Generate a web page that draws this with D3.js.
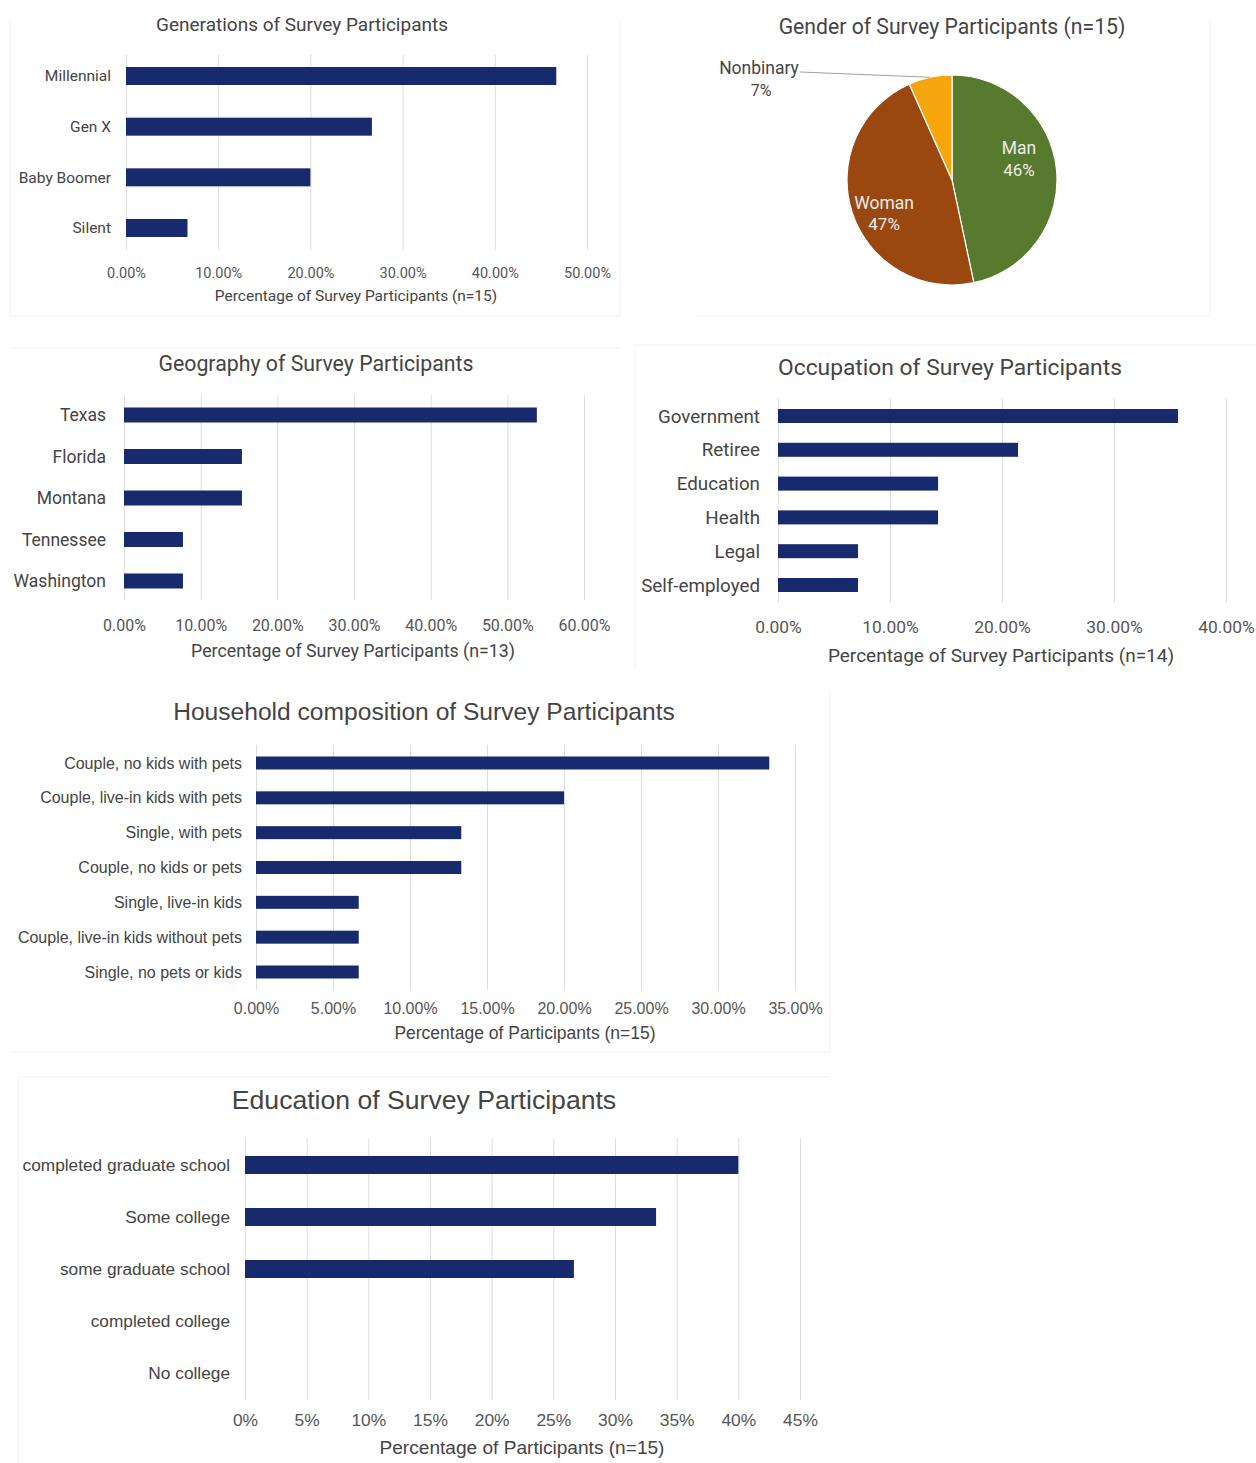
<!DOCTYPE html>
<html>
<head>
<meta charset="utf-8">
<script src="https://cdn.jsdelivr.net/npm/d3@7"></script>
<style>
  html, body { margin: 0; padding: 0; background: #fff; }
  svg { display: block; }
</style>
</head>
<body>
<svg id="chart" width="1256" height="1463"></svg>
<script>
// ---------------- DATA ----------------
const genCategories = ["Millennial", "Gen X", "Baby Boomer", "Silent"];
const genValues = [46.67, 26.67, 20.0, 6.67];
const genTicks = [0, 10, 20, 30, 40, 50];

const genderCategories = ["Man", "Woman", "Nonbinary"];
const genderCounts = [7, 7, 1];
const genderLabels = ["46%", "47%", "7%"];
const genderColors = ["#587a2f", "#9a4810", "#f5a60c"];

const geoCategories = ["Texas", "Florida", "Montana", "Tennessee", "Washington"];
const geoValues = [53.85, 15.38, 15.38, 7.69, 7.69];
const geoTicks = [0, 10, 20, 30, 40, 50, 60];

const occCategories = ["Government", "Retiree", "Education", "Health", "Legal", "Self-employed"];
const occValues = [35.71, 21.43, 14.29, 14.29, 7.14, 7.14];
const occTicks = [0, 10, 20, 30, 40];

const houseCategories = ["Couple, no kids with pets", "Couple, live-in kids with pets", "Single, with pets",
  "Couple, no kids or pets", "Single, live-in kids", "Couple, live-in kids without pets", "Single, no pets or kids"];
const houseValues = [33.33, 20.0, 13.33, 13.33, 6.67, 6.67, 6.67];
const houseTicks = [0, 5, 10, 15, 20, 25, 30, 35];

const eduCategories = ["completed graduate school", "Some college", "some graduate school", "completed college", "No college"];
const eduValues = [40.0, 33.33, 26.67, 0, 0];
const eduTicks = [0, 5, 10, 15, 20, 25, 30, 35, 40, 45];

// ---------------- DRAWING ----------------
const svg = d3.select("#chart");
const BAR = "#172a6e";
const GRID = "#dedede";

// faint panel borders
const panelLines = [
  [10, 316, 620, 316], [10, 20, 10, 316], [620, 20, 620, 316],
  [695, 316, 1210, 316], [1210, 20, 1210, 316],
  [10, 348, 620, 348], [635, 345, 1256, 345], [635, 345, 635, 668],
  [10, 1052, 830, 1052], [830, 690, 830, 1052],
  [18, 1077, 830, 1077], [18, 1077, 18, 1463]
];
svg.append("g").selectAll("line").data(panelLines).join("line")
  .attr("x1", d => d[0]).attr("y1", d => d[1]).attr("x2", d => d[2]).attr("y2", d => d[3])
  .attr("stroke", "#f1f1f1").attr("stroke-width", 1);

function barChart(o) {
  const g = svg.append("g");
  const x = d3.scaleLinear().domain([0, o.max]).range([o.x0, o.x1]);
  const y = d3.scalePoint().domain(o.categories).range([o.yFirst, o.yLast]);

  const ax = g.append("g")
    .attr("transform", `translate(0,${o.gridBottom})`)
    .call(d3.axisBottom(x).tickValues(o.ticks)
      .tickSize(-(o.gridBottom - o.gridTop))
      .tickFormat(o.fmt));
  ax.select(".domain").remove();
  ax.selectAll(".tick line").attr("stroke", GRID).attr("stroke-width", 1);
  ax.selectAll(".tick text")
    .attr("y", o.tickY - o.gridBottom).attr("dy", "0.35em")
    .attr("fill", "#555").style("font-family", o.font).style("font-size", o.tickSize + "px");

  g.selectAll("rect.bar").data(o.values).join("rect")
    .attr("class", "bar")
    .attr("x", x(0))
    .attr("y", (d, i) => y(o.categories[i]) - o.barH / 2)
    .attr("width", d => x(d) - x(0))
    .attr("height", d => d > 0 ? o.barH : 0)
    .attr("fill", BAR);

  g.selectAll("text.cat").data(o.categories).join("text")
    .attr("class", "cat")
    .attr("x", o.labelX).attr("y", d => y(d)).attr("dy", "0.35em")
    .attr("text-anchor", "end")
    .attr("fill", "#444").style("font-family", o.font).style("font-size", o.labelSize + "px")
    .text(d => d);

  g.append("text").attr("x", o.titleX).attr("y", o.titleY).attr("dy", "0.35em")
    .attr("text-anchor", "middle").attr("fill", "#444")
    .style("font-family", o.font).style("font-size", o.titleSize + "px")
    .text(o.title);

  g.append("text").attr("x", o.axisTitleX).attr("y", o.axisTitleY).attr("dy", "0.35em")
    .attr("text-anchor", "middle").attr("fill", "#444")
    .style("font-family", o.font).style("font-size", o.axisTitleSize + "px")
    .text(o.axisTitle);
}

const pct2 = d => d.toFixed(2) + "%";
const pct0 = d => d + "%";

barChart({
  categories: genCategories, values: genValues, ticks: genTicks, max: 50, fmt: pct2,
  x0: 126, x1: 587, yFirst: 76, yLast: 228, barH: 18, gridTop: 55, gridBottom: 250,
  tickY: 273, tickSize: 14.5, labelX: 111, labelSize: 15.5,
  title: "Generations of Survey Participants", titleX: 302, titleY: 24, titleSize: 19,
  axisTitle: "Percentage of Survey Participants (n=15)", axisTitleX: 356, axisTitleY: 296, axisTitleSize: 15.5,
  font: "Roboto"
});

barChart({
  categories: geoCategories, values: geoValues, ticks: geoTicks, max: 60, fmt: pct2,
  x0: 124, x1: 584, yFirst: 415, yLast: 581, barH: 15, gridTop: 395, gridBottom: 600,
  tickY: 625, tickSize: 16, labelX: 106, labelSize: 17.5,
  title: "Geography of Survey Participants", titleX: 316, titleY: 364, titleSize: 21.3,
  axisTitle: "Percentage of Survey Participants (n=13)", axisTitleX: 353, axisTitleY: 651, axisTitleSize: 17.8,
  font: "Roboto"
});

barChart({
  categories: occCategories, values: occValues, ticks: occTicks, max: 40, fmt: pct2,
  x0: 778, x1: 1226, yFirst: 416, yLast: 585, barH: 14, gridTop: 398, gridBottom: 603,
  tickY: 627, tickSize: 17.4, labelX: 760, labelSize: 18.8,
  title: "Occupation of Survey Participants", titleX: 950, titleY: 367, titleSize: 22.8,
  axisTitle: "Percentage of Survey Participants (n=14)", axisTitleX: 1001, axisTitleY: 655, axisTitleSize: 19,
  font: "Roboto"
});

barChart({
  categories: houseCategories, values: houseValues, ticks: houseTicks, max: 35, fmt: pct2,
  x0: 256, x1: 795, yFirst: 763, yLast: 972, barH: 13, gridTop: 745, gridBottom: 990,
  tickY: 1008, tickSize: 16, labelX: 242, labelSize: 16,
  title: "Household composition of Survey Participants", titleX: 424, titleY: 711, titleSize: 24.6,
  axisTitle: "Percentage of Participants (n=15)", axisTitleX: 525, axisTitleY: 1033, axisTitleSize: 17.5,
  font: "Liberation Sans"
});

barChart({
  categories: eduCategories, values: eduValues, ticks: eduTicks, max: 45, fmt: pct0,
  x0: 245, x1: 800, yFirst: 1165, yLast: 1373, barH: 18, gridTop: 1138, gridBottom: 1400,
  tickY: 1420, tickSize: 17.4, labelX: 230, labelSize: 17.3,
  title: "Education of Survey Participants", titleX: 424, titleY: 1100, titleSize: 26.6,
  axisTitle: "Percentage of Participants (n=15)", axisTitleX: 522, axisTitleY: 1447, axisTitleSize: 19.1,
  font: "Liberation Sans"
});

// ---------------- PIE ----------------
(function () {
  const cx = 952, cy = 180, r = 105;
  const g = svg.append("g").attr("transform", `translate(${cx},${cy})`);
  const data = genderCategories.map((c, i) => ({ c, v: genderCounts[i], lab: genderLabels[i], col: genderColors[i] }));
  const pie = d3.pie().value(d => d.v).sort(null);
  const arcs = pie(data);
  const arc = d3.arc().innerRadius(0).outerRadius(r);
  g.selectAll("path").data(arcs).join("path")
    .attr("d", arc).attr("fill", d => d.data.col)
    .attr("stroke", "#fff").attr("stroke-width", 1.2);

  const labelArc = d3.arc().innerRadius(r * 0.66).outerRadius(r * 0.66);
  const inside = arcs.filter(d => d.data.c !== "Nonbinary");
  const tg = g.selectAll("g.lbl").data(inside).join("g").attr("class", "lbl")
    .attr("transform", d => {
      const [lx, ly] = labelArc.centroid(d);
      return `translate(${lx - 2},${ly + (d.data.c === "Man" ? -14 : 12)})`;
    });
  tg.append("text").attr("text-anchor", "middle").attr("y", -11).attr("dy", "0.35em")
    .attr("fill", "#ececec").style("font-family", "Roboto").style("font-size", "17.5px")
    .text(d => d.data.c);
  tg.append("text").attr("text-anchor", "middle").attr("y", 11).attr("dy", "0.35em")
    .attr("fill", "#ececec").style("font-family", "Roboto").style("font-size", "17px")
    .text(d => d.data.lab);

  const nb = arcs.find(d => d.data.c === "Nonbinary");
  const mid = (nb.startAngle + nb.endAngle) / 2;
  const px = Math.sin(mid) * r, py = -Math.cos(mid) * r;
  g.append("line").attr("x1", px).attr("y1", py).attr("x2", -152).attr("y2", -108)
    .attr("stroke", "#9aa3ad").attr("stroke-width", 1);
  g.append("text").attr("x", -193).attr("y", -112).attr("dy", "0.35em").attr("text-anchor", "middle")
    .attr("fill", "#444").style("font-family", "Roboto").style("font-size", "17.5px").text(nb.data.c);
  g.append("text").attr("x", -191).attr("y", -90).attr("dy", "0.35em").attr("text-anchor", "middle")
    .attr("fill", "#444").style("font-family", "Roboto").style("font-size", "16px").text(nb.data.lab);

  svg.append("text").attr("x", 952).attr("y", 27).attr("dy", "0.35em").attr("text-anchor", "middle")
    .attr("fill", "#444").style("font-family", "Roboto").style("font-size", "21.2px")
    .text("Gender of Survey Participants (n=15)");
})();
</script>
</body>
</html>
